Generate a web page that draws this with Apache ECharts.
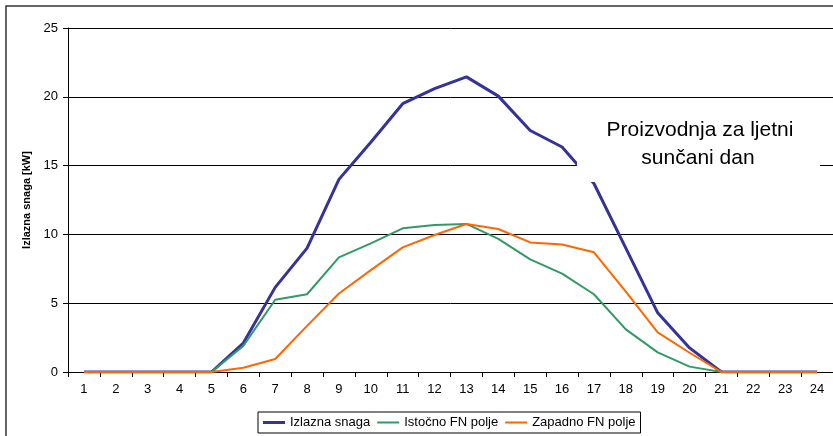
<!DOCTYPE html>
<html><head><meta charset="utf-8">
<script src="https://cdn.jsdelivr.net/npm/echarts@6/dist/echarts.min.js"></script>
<style>html,body{margin:0;padding:0;background:#fff}#c{width:833px;height:436px}</style>
</head><body><div id="c"></div>
<script>
var hours = ['1','2','3','4','5','6','7','8','9','10','11','12','13','14','15','16','17','18','19','20','21','22','23','24'];
var izlaznaSnaga = [0,0,0,0,0,2.1,6.15,9.0,14.0,16.7,19.5,20.6,21.45,20.05,17.55,16.35,13.7,9.0,4.3,1.75,0,0,0,0];
var istocnoFN = [0,0,0,0,0,1.9,5.25,5.65,8.33,9.35,10.44,10.68,10.76,9.67,8.19,7.15,5.65,3.1,1.43,0.39,0,0,0,0];
var zapadnoFN = [0,0,0,0,0,0.31,0.94,3.35,5.7,7.4,9.06,9.96,10.76,10.39,9.42,9.26,8.7,5.84,2.88,1.4,0,0,0,0];
var seriesNames = ['Izlazna snaga','Istočno FN polje','Zapadno FN polje'];
var yTicks = {min:0, max:25, interval:5};
var annotation = ['Proizvodnja za ljetni','sunčani dan'];

var FONT = 'Arial, "Liberation Sans", sans-serif';
var chart = echarts.init(document.getElementById('c'), null, {renderer:'canvas'});
chart.setOption({
  animation:false,
  backgroundColor:'#fff',
  grid:{left:68, top:28, width:766, height:344, containLabel:false},
  xAxis:{
    type:'category', data:hours, boundaryGap:true,
    axisLine:{lineStyle:{color:'#000', width:1}},
    axisTick:{show:true, length:5, lineStyle:{color:'#000'}},
    axisLabel:{color:'#000', fontSize:13, fontFamily:FONT, margin:11},
    splitLine:{show:false}
  },
  yAxis:{
    type:'value', min:yTicks.min, max:yTicks.max, interval:yTicks.interval,
    name:'Izlazna snaga [kW]', nameLocation:'middle', nameGap:35, nameRotate:90,
    nameTextStyle:{color:'#000', fontSize:11, fontWeight:'bold', fontFamily:FONT},
    axisLine:{show:true, lineStyle:{color:'#000', width:1}},
    axisTick:{show:true, length:5, lineStyle:{color:'#000'}},
    axisLabel:{color:'#000', fontSize:13, fontFamily:FONT, margin:10},
    splitLine:{show:true, lineStyle:{color:'#000', width:1}}
  },
  legend:{
    left:258, top:412, orient:'horizontal',
    data:[
      {name:seriesNames[0], icon:'path://M0,0H22V3H0Z'},
      {name:seriesNames[1], icon:'path://M0,0H22V2H0Z'},
      {name:seriesNames[2], icon:'path://M0,0H22V2H0Z'}
    ],
    itemWidth:22, itemHeight:13, itemGap:7,
    borderColor:'#000', borderWidth:1, padding:[4,5,4,5],
    textStyle:{color:'#000', fontSize:13, fontFamily:FONT}
  },
  series:[
    {name:seriesNames[0], type:'line', data:izlaznaSnaga, symbol:'none', lineStyle:{color:'#333399', width:3}, itemStyle:{color:'#333399'}},
    {name:seriesNames[1], type:'line', data:istocnoFN, symbol:'none', lineStyle:{color:'#339966', width:2}, itemStyle:{color:'#339966'}},
    {name:seriesNames[2], type:'line', data:zapadnoFN, symbol:'none', lineStyle:{color:'#FF6600', width:2}, itemStyle:{color:'#FF6600'}}
  ],
  graphic:[
    {type:'rect', z:100, shape:{x:6, y:6, width:840, height:440}, style:{fill:'none', stroke:'#333', lineWidth:1.5}},
    {type:'rect', z:100, shape:{x:577, y:108, width:243, height:74}, style:{fill:'#fff', stroke:null}},
    {type:'text', z:101, x:700, y:130, style:{text:annotation[0], fill:'#000', font:'21px '+FONT, textAlign:'center', textVerticalAlign:'middle'}},
    {type:'text', z:101, x:698, y:158, style:{text:annotation[1], fill:'#000', font:'21px '+FONT, textAlign:'center', textVerticalAlign:'middle'}}
  ]
});
</script></body></html>
